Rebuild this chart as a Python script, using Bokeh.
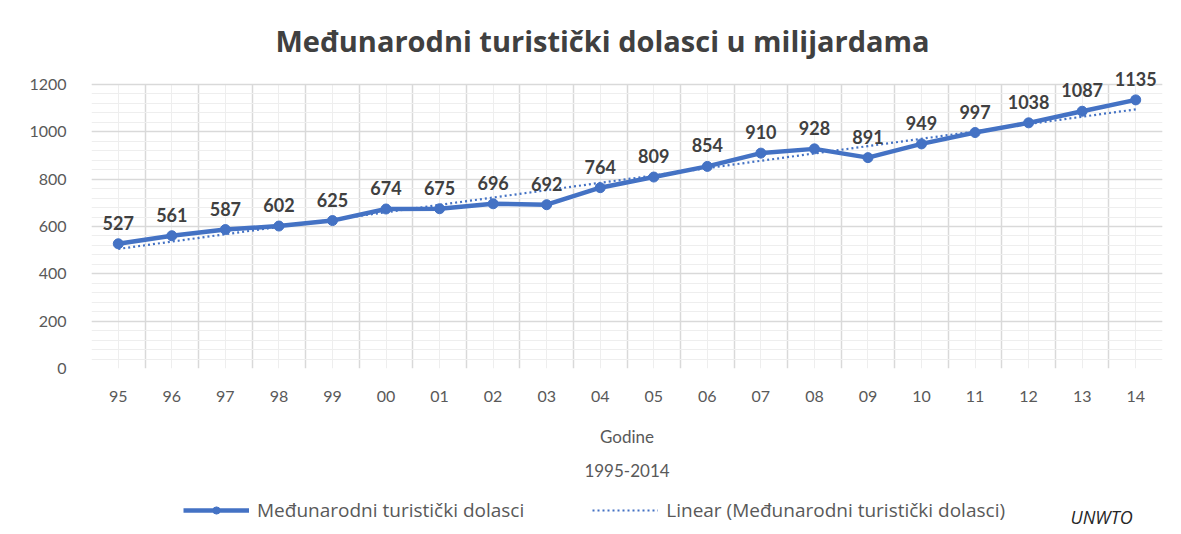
import numpy as np
from bokeh.plotting import figure
from bokeh.layouts import column
from bokeh.models import (ColumnDataSource, Range1d, FixedTicker, SingleIntervalTicker,
                          Label, LabelSet, Legend, LegendItem, Title)
from bokeh.core.properties import value
from bokeh.embed import file_html
from bokeh.resources import INLINE

years = ["95", "96", "97", "98", "99", "00", "01", "02", "03", "04",
         "05", "06", "07", "08", "09", "10", "11", "12", "13", "14"]
arrivals = [527, 561, 587, 602, 625, 674, 675, 696, 692, 764,
            809, 854, 910, 928, 891, 949, 997, 1038, 1087, 1135]
title_text = "Međunarodni turistički dolasci u milijardama"
series_name = "Međunarodni turistički dolasci"
trend_name = "Linear (Međunarodni turistički dolasci)"
x_title = ["Godine", "1995-2014"]
source_text = "UNWTO"

BLUE = "#4472C4"
TXT = "#595959"
FONT = "Lato"

xs = np.arange(len(years))
coef = np.polyfit(xs, arrivals, 1)
trend = np.polyval(coef, xs)

src = ColumnDataSource(dict(x=xs, y=arrivals, lab=[str(v) for v in arrivals]))
tsrc = ColumnDataSource(dict(x=xs, y=trend))

W = 1181
H_MAIN = 489
H_LEG = 45
FL, FR = 91, 1162
YMAX = 1200.0
FRAME_H = 368 - 64
y_top = YMAX * FRAME_H / 284.0

p = figure(width=W, height=H_MAIN, output_backend="svg", toolbar_location=None,
           x_range=Range1d(-0.5, len(years) - 0.5), y_range=Range1d(0, y_top),
           min_border_left=FL, min_border_right=W - FR, min_border_top=64,
           min_border_bottom=H_MAIN - 368)
p.outline_line_color = None
p.background_fill_color = "white"

# title
p.title.text = title_text
p.title.align = "left"
p.title.offset = 184
p.title.text_font = "Open Sans"
p.title.text_font_style = "bold"
p.title.text_font_size = "29px"
p.title.text_color = "#404040"
p.title.standoff = 9

# grids
p.xgrid.ticker = FixedTicker(ticks=list(np.arange(len(years) + 1) - 0.5), minor_ticks=list(xs))
p.xgrid.grid_line_color = "#d9d9d9"
p.xgrid.grid_line_width = 1.5
p.xgrid.minor_grid_line_color = "#eeeeee"
p.xgrid.minor_grid_line_width = 1
p.xgrid.cross_bounds = (0, YMAX)
yt = SingleIntervalTicker(interval=200, num_minor_ticks=5)
p.yaxis.ticker = yt
p.yaxis.bounds = (0, YMAX)
p.ygrid.ticker = yt
p.ygrid.bounds = (0, YMAX)
p.ygrid.grid_line_color = "#d9d9d9"
p.ygrid.grid_line_width = 1.5
p.ygrid.minor_grid_line_color = "#eeeeee"
p.ygrid.minor_grid_line_width = 1

# axes
p.xaxis.ticker = FixedTicker(ticks=list(xs))
p.xaxis.major_label_overrides = {int(i): y for i, y in zip(xs, years)}
for ax in (p.xaxis, p.yaxis):
    ax.axis_line_color = None
    ax.major_tick_line_color = None
    ax.minor_tick_line_color = None
    ax.major_label_text_color = TXT
    ax.major_label_text_font = FONT
    ax.major_label_text_font_size = "16px"
p.xaxis.major_label_standoff = 16
p.yaxis.major_label_standoff = 19

# glyphs
tr_line = p.line("x", "y", source=tsrc, line_color=BLUE, line_width=2.2, line_dash="2 3")
ln = p.line("x", "y", source=src, line_color=BLUE, line_width=4.5)
sc = p.scatter("x", "y", source=src, size=10, fill_color=BLUE, line_color=BLUE)
labels = LabelSet(x="x", y="y", text="lab", source=src, text_align="center",
                  text_baseline="bottom", y_offset=14, text_color="#404040",
                  text_font=value(FONT), text_font_style="bold", text_font_size="18px")
p.add_layout(labels)

# x axis titles below
p.add_layout(Title(text=x_title[0], align="center", text_font=FONT, text_font_size="17px",
                   text_color=TXT, text_font_style="normal", standoff=38), "below")
p.add_layout(Title(text=x_title[1], align="center", text_font=FONT, text_font_size="17px",
                   text_color=TXT, text_font_style="normal", standoff=-7), "below")

# legend strip (proxy renderers share the data but lie outside this strip's view)
q = figure(width=W, height=H_LEG, output_backend="svg", toolbar_location=None,
           x_range=Range1d(FL, FR), y_range=Range1d(0, H_LEG),
           min_border_left=FL, min_border_right=W - FR,
           min_border_top=0, min_border_bottom=0)
q.axis.visible = False
q.grid.visible = False
q.outline_line_color = None
lq = q.line("x", "y", source=src, line_color=BLUE, line_width=4.5)
sq = q.scatter("x", "y", source=src, size=10, fill_color=BLUE, line_color=BLUE)
tq = q.line("x", "y", source=tsrc, line_color=BLUE, line_width=2.2, line_dash="2 3")
legend = Legend(items=[LegendItem(label=series_name, renderers=[lq, sq]),
                       LegendItem(label=trend_name, renderers=[tq])],
                orientation="horizontal", location=(183 - FL, 11),
                glyph_width=66, glyph_height=18, spacing=68, label_standoff=8,
                label_text_font="Open Sans", label_text_font_size="19px",
                label_text_color=TXT, background_fill_alpha=0, border_line_color=None,
                padding=4, margin=0)
q.add_layout(legend)
q.add_layout(Label(x=1070, y=H_LEG - 27, text=source_text, text_align="left",
                   text_baseline="middle", text_font="Open Sans", text_font_style="italic",
                   text_font_size="18px", text_color="#262626"))

layout = column(p, q, spacing=0)
open("out.html", "w").write(file_html(layout, INLINE))
